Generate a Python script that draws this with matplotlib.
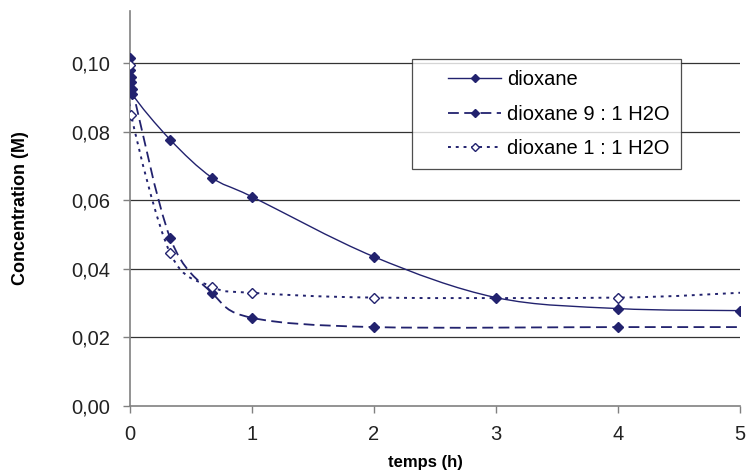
import numpy as np
import matplotlib
matplotlib.use("Agg")
from matplotlib import pyplot as plt
from matplotlib.path import Path
from matplotlib.patches import PathPatch
from matplotlib.lines import Line2D
from matplotlib.legend_handler import HandlerLine2D
from matplotlib.ticker import FuncFormatter

plt.rcParams['font.family'] = ['Liberation Sans', 'DejaVu Sans']

# data
t_diox = [0, 0.01, 0.02, 0.33, 0.67, 1, 2, 3, 4, 5]
c_diox = [0.1015, 0.096, 0.0909, 0.0776, 0.0666, 0.0610, 0.0435, 0.0316, 0.0284, 0.0278]

t_91 = [0, 0.01, 0.02, 0.33, 0.67, 1, 2, 4, 5]
c_91 = [0.098, 0.0943, 0.0923, 0.0489, 0.0330, 0.0257, 0.0230, 0.0230, 0.0230]

t_11 = [0, 0.01, 0.33, 0.67, 1, 2, 4, 5]
c_11 = [0.0995, 0.0848, 0.0445, 0.0348, 0.0330, 0.0316, 0.0316, 0.0330]

labels = ['dioxane', 'dioxane 9 : 1 H2O', 'dioxane 1 : 1 H2O']
navy = '#22226e'


def smooth_path(x, y, k=1/6):
    # bezier segments through the points, like a spreadsheet "smoothed line"
    x = np.asarray(x, float)
    y = np.asarray(y, float)
    verts = [(x[0], y[0])]
    codes = [Path.MOVETO]
    n = len(x)
    for i in range(n - 1):
        p0 = np.array([x[max(i - 1, 0)], y[max(i - 1, 0)]])
        p1 = np.array([x[i], y[i]])
        p2 = np.array([x[i + 1], y[i + 1]])
        p3 = np.array([x[min(i + 2, n - 1)], y[min(i + 2, n - 1)]])
        c1 = p1 + (p2 - p0) * k
        c2 = p2 - (p3 - p1) * k
        verts += [tuple(c1), tuple(c2), tuple(p2)]
        codes += [Path.CURVE4] * 3
    return Path(verts, codes)


class ShiftedHandler(HandlerLine2D):
    # leaves empty room at the left of the legend handle
    shift = 1.25

    def create_artists(self, legend, orig_handle, xdescent, ydescent, width, height, fontsize, trans):
        s = self.shift * fontsize
        return super().create_artists(legend, orig_handle, xdescent - s, ydescent,
                                      width - s, height, fontsize, trans)


fig = plt.figure(figsize=(7.48, 4.75), dpi=100)
ax = fig.add_axes([0.1738, 0.1453, 0.8155, 0.832])

styles = [
    dict(ls='-', lw=1.0, mfc=navy, x=t_diox, y=c_diox, every=slice(None)),
    dict(ls=(0, (6, 3)), lw=1.3, mfc=navy, x=t_91, y=c_91, every=slice(0, -1)),
    dict(ls=(0, (1.5, 2.5)), lw=1.4, mfc='white', x=t_11, y=c_11, every=slice(0, -1)),
]

handles = []
for st, lab in zip(styles, labels):
    patch = PathPatch(smooth_path(st['x'], st['y']), facecolor='none', edgecolor=navy,
                      lw=st['lw'], ls=st['ls'], zorder=3)
    ax.add_patch(patch)
    xs = np.asarray(st['x'])[st['every']]
    ys = np.asarray(st['y'])[st['every']]
    ax.plot(xs, ys, ls='none', marker='D', ms=5.5, mfc=st['mfc'], mec=navy, mew=1.0, zorder=4)
    handles.append(Line2D([], [], color=navy, lw=st['lw'], ls=st['ls'], marker='D',
                          ms=4.5, mfc=st['mfc'], mec=navy, mew=1.0))

ax.set_xlim(0, 5)
ax.set_ylim(0, 0.1152)
ax.set_xticks(range(6))
ax.set_yticks([0, 0.02, 0.04, 0.06, 0.08, 0.10])
ax.yaxis.set_major_formatter(FuncFormatter(lambda v, p: ('%.2f' % v).replace('.', ',')))

for y in [0.02, 0.04, 0.06, 0.08, 0.10]:
    ax.axhline(y, color='#333333', lw=0.9, zorder=1)

for s in ['top', 'right']:
    ax.spines[s].set_visible(False)
for s in ['left', 'bottom']:
    ax.spines[s].set_color('#808080')
    ax.spines[s].set_linewidth(1.2)

ax.tick_params(axis='both', direction='out', length=5, width=1.0, color='#808080',
               labelsize=14.5, labelcolor='#222222')
ax.tick_params(axis='y', pad=9)
ax.tick_params(axis='x', pad=9)

ax.set_xlabel('temps (h)', fontsize=12, fontweight='bold')
ax.set_ylabel('Concentration (M)', fontsize=13, fontweight='bold')
ax.xaxis.set_label_coords(0.485, -0.124)
ax.yaxis.set_label_coords(-0.165, 0.5)

leg = ax.legend(handles, labels, loc='upper left', bbox_to_anchor=(0.462, 0.878),
                fontsize=14.5, frameon=True, fancybox=False, handlelength=3.9,
                borderpad=0.55, labelspacing=0.77, handletextpad=0.3, borderaxespad=0,
                handler_map={Line2D: ShiftedHandler()})
leg.get_frame().set_edgecolor('#222222')
leg.get_frame().set_linewidth(0.9)

fig.savefig('out.png', dpi=100)
